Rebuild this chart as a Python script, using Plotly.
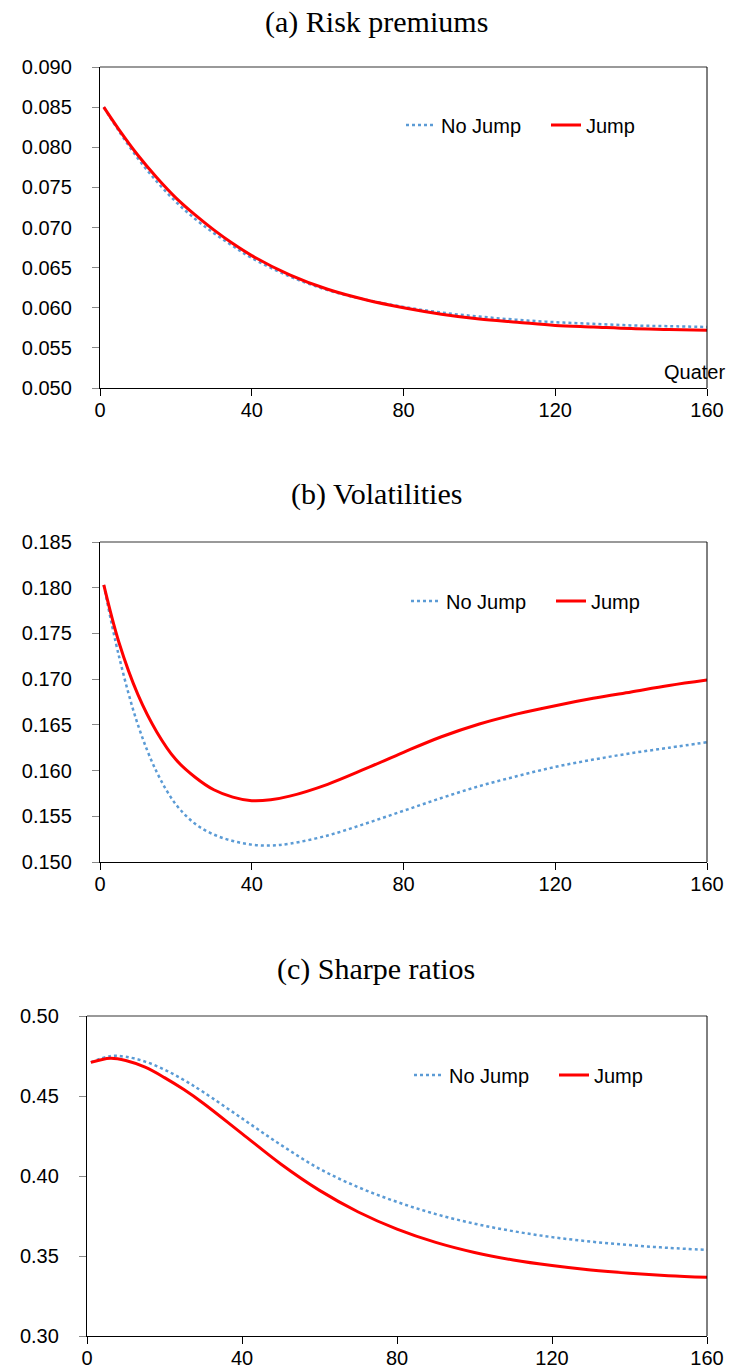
import plotly.graph_objects as go

# ---------------- data ----------------
t_a = [1, 5, 10, 15, 20, 25, 30, 35, 40, 50, 60, 70, 80, 90, 100, 110, 120, 130, 140, 150, 160]
rp_nojump = [0.0850, 0.0820, 0.0786, 0.0757, 0.0732, 0.0711, 0.0693, 0.0677, 0.0662, 0.0639, 0.0622,
             0.0610, 0.0601, 0.0594, 0.0589, 0.0585, 0.0582, 0.0580, 0.0578, 0.0577, 0.0576]
rp_jump = [0.0850, 0.0822, 0.0790, 0.0762, 0.0737, 0.0716, 0.0697, 0.0680, 0.0665, 0.0641, 0.0623,
           0.0610, 0.0600, 0.0592, 0.0586, 0.0582, 0.0578, 0.0576, 0.0574, 0.0573, 0.0572]

t_b = [1, 5, 10, 15, 20, 25, 30, 35, 40, 45, 50, 60, 70, 80, 90, 100, 110, 120, 130, 140, 150, 160]
vol_nojump = [0.1803, 0.1725, 0.1650, 0.1598, 0.1563, 0.1542, 0.1530, 0.1523, 0.1519,
              0.1518, 0.1520, 0.1529, 0.1542, 0.1556, 0.1570, 0.1583, 0.1594, 0.1604, 0.1612, 0.1619,
              0.1625, 0.1631]
vol_jump = [0.1803, 0.1740, 0.1683, 0.1642, 0.1612, 0.1593, 0.1579, 0.1571, 0.1567,
            0.1568, 0.1572, 0.1585, 0.1602, 0.1620, 0.1637, 0.1651, 0.1662, 0.1671, 0.1679, 0.1686,
            0.1693, 0.1699]

t_c = [1, 6, 10, 15, 20, 25, 30, 40, 50, 60, 70, 80, 90, 100, 110, 120, 130, 140, 150, 160]
sr_nojump = [0.4710, 0.4749, 0.4745, 0.4715, 0.4665, 0.4600, 0.4525, 0.4360, 0.4195, 0.4045,
             0.3930, 0.3838, 0.3762, 0.3702, 0.3655, 0.3618, 0.3590, 0.3568, 0.3551, 0.3538]
sr_jump = [0.4710, 0.4736, 0.4722, 0.4680, 0.4615, 0.4540, 0.4455, 0.4265, 0.4075, 0.3910,
           0.3775, 0.3668, 0.3585, 0.3522, 0.3475, 0.3440, 0.3412, 0.3392, 0.3377, 0.3367]

titles = ["(a) Risk premiums", "(b) Volatilities", "(c) Sharpe ratios"]
x_ticks = [0, 40, 80, 120, 160]
series_names = ["No Jump", "Jump"]

# ---------------- layout helpers ----------------
W, H = 734, 1370
BLUE = "#5B9BD5"
RED = "#FF0000"
TICKFONT = dict(family="Liberation Sans, Arial, sans-serif", size=20, color="black")

panels = [
    dict(t=t_a, nj=rp_nojump, j=rp_jump, x0=100, x1=707, y0=67, y1=388,
         yr=[0.05, 0.09], dt=0.005, fmt=".3f", title_y=22, leg_x=401, leg_y=125),
    dict(t=t_b, nj=vol_nojump, j=vol_jump, x0=100, x1=707, y0=542, y1=862,
         yr=[0.15, 0.185], dt=0.005, fmt=".3f", title_y=494, leg_x=406, leg_y=601),
    dict(t=t_c, nj=sr_nojump, j=sr_jump, x0=87, x1=707, y0=1016, y1=1336,
         yr=[0.30, 0.50], dt=0.05, fmt=".2f", title_y=969, leg_x=409, leg_y=1075),
]

fig = go.Figure()
shapes = []
annotations = []

for i, p in enumerate(panels):
    n = "" if i == 0 else str(i + 1)
    xa, ya = "x" + n, "y" + n
    leg = "legend" if i == 0 else "legend" + str(i + 1)
    fig.add_trace(go.Scatter(x=p["t"], y=p["nj"], mode="lines", name=series_names[0],
                             line=dict(color=BLUE, width=2.5, dash="dot", shape="spline", smoothing=1.0),
                             xaxis=xa, yaxis=ya, legend=leg))
    fig.add_trace(go.Scatter(x=p["t"], y=p["j"], mode="lines", name=series_names[1],
                             line=dict(color=RED, width=3, shape="spline", smoothing=1.0),
                             xaxis=xa, yaxis=ya, legend=leg))

    xdom = [p["x0"] / W, p["x1"] / W]
    ydom = [1 - p["y1"] / H, 1 - p["y0"] / H]
    ax_key = "xaxis" + n
    ay_key = "yaxis" + n
    fig.update_layout(**{
        ax_key: dict(domain=xdom, range=[0, 160], tickvals=x_ticks, anchor=ya, automargin=False,
                     showgrid=False, zeroline=False, showline=True, linecolor="black", linewidth=1.3,
                     ticks="outside", ticklen=7, tickcolor="black", tickwidth=1,
                     tickfont=TICKFONT, ticklabelstandoff=-3, fixedrange=True),
        ay_key: dict(domain=ydom, range=p["yr"], dtick=p["dt"], tick0=p["yr"][0], tickformat=p["fmt"],
                     anchor=xa, automargin=False, showgrid=False, zeroline=False, showline=True,
                     linecolor="black", linewidth=1.3, ticks="outside", ticklen=7,
                     tickcolor="#888888", tickwidth=1.3,
                     tickfont=TICKFONT, ticklabelstandoff=16, fixedrange=True),
        leg: dict(orientation="h", x=p["leg_x"] / W, y=1 - p["leg_y"] / H, xanchor="left",
                  yanchor="middle", bgcolor="rgba(0,0,0,0)", font=TICKFONT,
                  itemwidth=30, tracegroupgap=0, entrywidth=100, entrywidthmode="pixels"),
    })
    # top (gray) and right (black) borders of the plot area
    shapes.append(dict(type="line", xref=xa + " domain", yref=ya + " domain",
                       x0=0, x1=1, y0=1, y1=1, line=dict(color="#999999", width=2)))
    shapes.append(dict(type="line", xref=xa + " domain", yref=ya + " domain",
                       x0=1, x1=1, y0=0, y1=1, line=dict(color="black", width=1)))
    annotations.append(dict(text=titles[i], xref="paper", yref="paper", x=376 / W,
                            y=1 - p["title_y"] / H, xanchor="center", yanchor="middle",
                            showarrow=False,
                            font=dict(family="Liberation Serif, Times New Roman, serif", size=30,
                                      color="black")))

annotations.append(dict(text="Quater", xref="paper", yref="paper", x=694 / W, y=1 - 372 / H,
                        xanchor="center", yanchor="middle", showarrow=False, font=TICKFONT))

fig.update_layout(width=W, height=H, margin=dict(l=0, r=0, t=0, b=0, autoexpand=False),
                  paper_bgcolor="white", plot_bgcolor="white",
                  shapes=shapes, annotations=annotations, showlegend=True)

fig.write_html("out.html")
